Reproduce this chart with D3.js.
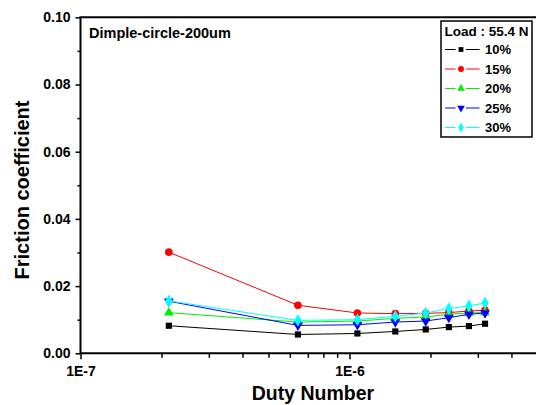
<!DOCTYPE html>
<html><head><meta charset="utf-8">
<script src="https://cdn.jsdelivr.net/npm/d3@7/dist/d3.min.js"></script>
<style>
html,body{margin:0;background:#fff;overflow:hidden;}
svg{display:block;font-family:"Liberation Sans",Arial,sans-serif;}
</style></head>
<body><svg id="c" width="536" height="405"></svg>
<script>
const dutyNumber = [2.13e-7, 6.43e-7, 1.07e-6, 1.48e-6, 1.92e-6, 2.34e-6, 2.78e-6, 3.19e-6];
const seriesNames = ["10%", "15%", "20%", "25%", "30%"];
const s10 = [0.0082, 0.0056, 0.0059, 0.0065, 0.0071, 0.0078, 0.0081, 0.0088];
const s15 = [0.0301, 0.0143, 0.0120, 0.0118, 0.0119, 0.0121, 0.0126, 0.0128];
const s20 = [0.0121, 0.0093, 0.0096, 0.0104, 0.0108, 0.0116, 0.0120, 0.0121];
const s25 = [0.0155, 0.0083, 0.0085, 0.0093, 0.0096, 0.0106, 0.0116, 0.0120];
const s30 = [0.0156, 0.0098, 0.0100, 0.0110, 0.0120, 0.0133, 0.0141, 0.0150];
const seriesValues = [s10, s15, s20, s25, s30];
const xMajorTicks = [1e-7, 1e-6];
const xMinorTicks = [2e-7,3e-7,4e-7,5e-7,6e-7,7e-7,8e-7,9e-7,2e-6,3e-6,4e-6];
const yMajorTicks = [0, 0.02, 0.04, 0.06, 0.08, 0.10];
const yMinorTicks = [0.01, 0.03, 0.05, 0.07, 0.09];
const colors = ["#000000", "#ff0000", "#00ee00", "#0000ff", "#00ffff"];
const symbols = [d3.symbolSquare, d3.symbolCircle, d3.symbolTriangle, "down", d3.symbolDiamond];

const svg = d3.select("#c");
const L = 80.5, T = 17.3, B = 353.3;
const R = L + 269 * Math.log10(50);
const x = d3.scaleLog().domain([1e-7, 5e-6]).range([L, R]);
const y = d3.scaleLinear().domain([0, 0.1]).range([B, T]);
const FONT = '"Liberation Sans",Arial,sans-serif';

// minor ticks
svg.append("g").attr("transform", `translate(0,${B})`)
  .call(d3.axisBottom(x).tickValues(xMinorTicks).tickSize(4.5).tickFormat(""))
  .call(g => g.select(".domain").remove())
  .selectAll("line").attr("stroke", "#000").attr("stroke-width", 1.5);
svg.append("g").attr("transform", `translate(${L},0)`)
  .call(d3.axisLeft(y).tickValues(yMinorTicks).tickSize(3).tickFormat(""))
  .call(g => g.select(".domain").remove())
  .selectAll("line").attr("stroke", "#000").attr("stroke-width", 1.5);

// major axes
const xa = svg.append("g").attr("transform", `translate(0,${B})`)
  .call(d3.axisBottom(x).tickValues(xMajorTicks).tickSize(6).tickPadding(6.5)
    .tickFormat(d => "1E" + Math.round(Math.log10(d))));
const ya = svg.append("g").attr("transform", `translate(${L},0)`)
  .call(d3.axisLeft(y).tickValues(yMajorTicks).tickSize(5).tickPadding(5)
    .tickFormat(d3.format(".2f")));
[xa, ya].forEach(g => {
  g.select(".domain").remove();
  g.selectAll("line").attr("stroke", "#000").attr("stroke-width", 1.5);
  g.selectAll("text").attr("fill", "#000").style("font-size", "14px").style("font-weight", "bold")
   .style("font-family", FONT);
});

// frame: top, left, bottom (the right edge lies outside the picture)
svg.append("path")
  .attr("d", `M${R + 20},${T}H${L}V${B}H${R + 20}`)
  .attr("fill", "none").attr("stroke", "#000").attr("stroke-width", 2);

function sym(i, size) {
  if (symbols[i] === "down") return d3.symbol().type(d3.symbolTriangle).size(size)();
  return d3.symbol().type(symbols[i]).size(size)();
}
const sizes = [38, 46, 42, 42, 46];

const line = d3.line().x((d, i) => x(dutyNumber[i])).y(d => y(d));
seriesValues.forEach((vals, si) => {
  const g = svg.append("g");
  g.append("path").attr("d", line(vals)).attr("fill", "none")
    .attr("stroke", colors[si]).attr("stroke-width", 1);
  g.selectAll("path.m").data(vals).join("path").attr("class", "m")
    .attr("d", sym(si, sizes[si]))
    .attr("transform", (d, i) => `translate(${x(dutyNumber[i])},${y(d)})` + (symbols[si] === "down" ? " rotate(180)" : ""))
    .attr("fill", colors[si]);
});

// annotation
svg.append("text").attr("x", 89).attr("y", 38).text("Dimple-circle-200um")
  .style("font-size", "14.5px").style("font-weight", "bold").attr("fill", "#000");

// legend
const lg = svg.append("g");
lg.append("rect").attr("x", 441).attr("y", 21).attr("width", 91).attr("height", 116)
  .attr("fill", "#fff").attr("stroke", "#000").attr("stroke-width", 1.5);
lg.append("text").attr("x", 444.5).attr("y", 35.5).text("Load : 55.4 N")
  .style("font-size", "13.5px").style("font-weight", "bold");
seriesNames.forEach((n, i) => {
  const cy = 49.5 + i * 19.5;
  lg.append("line").attr("x1", 445).attr("x2", 455.5).attr("y1", cy).attr("y2", cy)
    .attr("stroke", colors[i]).attr("stroke-width", 1);
  lg.append("line").attr("x1", 466).attr("x2", 479.5).attr("y1", cy).attr("y2", cy)
    .attr("stroke", colors[i]).attr("stroke-width", 1);
  lg.append("path").attr("d", sym(i, sizes[i] * 0.6))
    .attr("transform", `translate(461,${cy})` + (symbols[i] === "down" ? " rotate(180)" : ""))
    .attr("fill", colors[i]);
  lg.append("text").attr("x", 485).attr("y", cy + 4.7).text(n)
    .style("font-size", "13px").style("font-weight", "bold");
});

// axis titles
svg.append("text").attr("x", 313).attr("y", 400).attr("text-anchor", "middle")
  .text("Duty Number").style("font-size", "19.5px").style("font-weight", "bold");
svg.append("text").attr("transform", "translate(29,190) rotate(-90)").attr("text-anchor", "middle")
  .text("Friction coefficient").style("font-size", "20px").style("font-weight", "bold");
</script></body></html>
